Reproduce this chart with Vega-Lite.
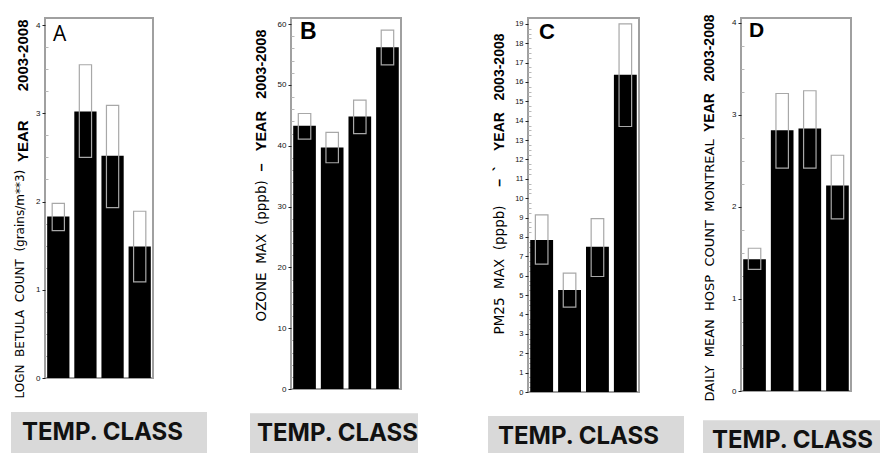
{
  "$schema": "https://vega.github.io/schema/vega-lite/v6.json",
  "background": "white",
  "padding": {"left": 11, "top": 13, "right": 2, "bottom": 0},
  "datasets": {
    "A": [
      {"cls": "1", "mean": 1.83, "lo": 1.67, "hi": 1.98},
      {"cls": "2", "mean": 3.02, "lo": 2.50, "hi": 3.55},
      {"cls": "3", "mean": 2.52, "lo": 1.93, "hi": 3.09},
      {"cls": "4", "mean": 1.49, "lo": 1.09, "hi": 1.89}
    ],
    "B": [
      {"cls": "1", "mean": 43.3, "lo": 41.1, "hi": 45.3},
      {"cls": "2", "mean": 39.7, "lo": 37.2, "hi": 42.2},
      {"cls": "3", "mean": 44.8, "lo": 42.0, "hi": 47.5},
      {"cls": "4", "mean": 56.2, "lo": 53.3, "hi": 59.0}
    ],
    "C": [
      {"cls": "1", "mean": 7.85, "lo": 6.6, "hi": 9.14},
      {"cls": "2", "mean": 5.27, "lo": 4.38, "hi": 6.13},
      {"cls": "3", "mean": 7.5, "lo": 5.96, "hi": 8.95},
      {"cls": "4", "mean": 16.37, "lo": 13.7, "hi": 19.0}
    ],
    "D": [
      {"cls": "1", "mean": 1.43, "lo": 1.32, "hi": 1.55},
      {"cls": "2", "mean": 2.83, "lo": 2.42, "hi": 3.23},
      {"cls": "3", "mean": 2.85, "lo": 2.42, "hi": 3.26},
      {"cls": "4", "mean": 2.23, "lo": 1.87, "hi": 2.56}
    ],
    "none": []
  },
  "vconcat": [
    {
      "bounds": "flush",
      "spacing": 0,
      "hconcat": [
        {"width": 34, "height": 1, "data": {"name": "none"}, "mark": {"type": "point"}, "view": {"stroke": null}},
        {
          "width": 108, "height": 360,
          "data": {"name": "A"},
          "view": {"stroke": "#a0a0a0", "strokeWidth": 2},
          "resolve": {"axis": {"y": "independent"}},
          "layer": [
            {
              "mark": {"type": "bar", "color": "#000000"},
              "encoding": {
                "x": {"field": "cls", "type": "ordinal", "scale": {"paddingInner": 0.18, "paddingOuter": 0.08}, "axis": {"title": null, "labelAngle": 0, "ticks": false, "domain": false, "labelPadding": 12, "labelFontSize": 8}},
                "y": {"field": "mean", "type": "quantitative", "scale": {"domain": [0, 4.08], "nice": false},
                  "axis": {"values": [0, 1, 2, 3, 4], "labelFontSize": 8, "tickSize": 3, "labelPadding": 2, "domain": false, "grid": false,
                    "title": "LOGN\u00a0\u00a0BETULA\u00a0\u00a0COUNT\u00a0\u00a0(grains/m**3)", "titleX": -21.5, "titleY": 380, "titleAlign": "left", "titleAngle": 270, "titleBaseline": "alphabetic", "titleFont": "DejaVu Sans", "titleFontSize": 12, "titleFontWeight": "normal", "titleColor": "#000000"}}
              }
            },
            {
              "mark": {"type": "bar", "fill": "transparent", "stroke": "#a8a8a8", "strokeWidth": 1.2, "width": {"band": 0.55}},
              "encoding": {
                "x": {"field": "cls", "type": "ordinal", "axis": null},
                "y": {"field": "lo", "type": "quantitative", "scale": {"domain": [0, 4.08], "nice": false},
                  "axis": {"orient": "left", "values": [0.25, 0.5, 0.75, 1.25, 1.5, 1.75, 2.25, 2.5, 2.75, 3.25, 3.5, 3.75], "labels": false, "domain": false, "grid": false, "tickSize": -3, "tickColor": "#b8b8b8",
                    "title": "YEAR\u00a0\u00a0\u00a0\u00a0\u00a0\u00a0\u00a02003-2008", "titleX": -18, "titleY": 1, "titleAlign": "right", "titleAngle": 270, "titleBaseline": "alphabetic", "titleFont": "Liberation Sans", "titleFontSize": 15, "titleFontWeight": "bold", "titleColor": "#000000"}},
                "y2": {"field": "hi"}
              }
            },
            {
              "data": {"values": [{"lab": "A", "cls": "1", "top": 4.08}]},
              "mark": {"type": "text", "align": "left", "baseline": "top", "dx": -5.3, "dy": 6.4, "font": "Open Sans", "fontSize": 21, "fontWeight": "normal", "color": "#000000"},
              "encoding": {
                "x": {"field": "cls", "type": "ordinal", "axis": null},
                "y": {"field": "top", "type": "quantitative", "axis": null, "scale": {"domain": [0, 4.08], "nice": false}},
                "text": {"field": "lab"}
              }
            }
          ]
        },
        {"width": 138, "height": 1, "data": {"name": "none"}, "mark": {"type": "point"}, "view": {"stroke": null}},
        {
          "width": 110, "height": 371,
          "data": {"name": "B"},
          "view": {"stroke": "#a0a0a0", "strokeWidth": 2},
          "resolve": {"axis": {"y": "independent"}},
          "layer": [
            {
              "mark": {"type": "bar", "color": "#000000"},
              "encoding": {
                "x": {"field": "cls", "type": "ordinal", "scale": {"paddingInner": 0.18, "paddingOuter": 0.08}, "axis": {"title": null, "labelAngle": 0, "ticks": false, "domain": false, "labelPadding": 12, "labelFontSize": 8}},
                "y": {"field": "mean", "type": "quantitative", "scale": {"domain": [0, 61], "nice": false},
                  "axis": {"values": [0, 10, 20, 30, 40, 50, 60], "labelFontSize": 8, "tickSize": 3, "labelPadding": 2, "domain": false, "grid": false,
                    "title": "OZONE\u00a0\u00a0MAX\u00a0\u00a0(pppb)", "titleX": -26, "titleY": 303, "titleAlign": "left", "titleAngle": 270, "titleBaseline": "alphabetic", "titleFont": "DejaVu Sans", "titleFontSize": 13.5, "titleFontWeight": "normal", "titleColor": "#000000"}}
              }
            },
            {
              "mark": {"type": "bar", "fill": "transparent", "stroke": "#a8a8a8", "strokeWidth": 1.2, "width": {"band": 0.55}},
              "encoding": {
                "x": {"field": "cls", "type": "ordinal", "axis": null},
                "y": {"field": "lo", "type": "quantitative", "scale": {"domain": [0, 61], "nice": false},
                  "axis": {"orient": "left", "values": [2, 4, 6, 8, 12, 14, 16, 18, 22, 24, 26, 28, 32, 34, 36, 38, 42, 44, 46, 48, 52, 54, 56, 58], "labels": false, "domain": false, "grid": false, "tickSize": -3, "tickColor": "#b8b8b8",
                    "title": "–\u00a0\u00a0\u00a0YEAR\u00a0\u00a0\u00a02003-2008", "titleX": -26, "titleY": 11, "titleAlign": "right", "titleAngle": 270, "titleBaseline": "alphabetic", "titleFont": "Liberation Sans", "titleFontSize": 14.5, "titleFontWeight": "bold", "titleColor": "#000000"}},
                "y2": {"field": "hi"}
              }
            },
            {
              "data": {"values": [{"lab": "B", "cls": "1", "top": 61}]},
              "mark": {"type": "text", "align": "left", "baseline": "top", "dx": -4.5, "dy": 2.8, "font": "Liberation Sans", "fontSize": 23, "fontWeight": "bold", "color": "#000000"},
              "encoding": {
                "x": {"field": "cls", "type": "ordinal", "axis": null},
                "y": {"field": "top", "type": "quantitative", "axis": null, "scale": {"domain": [0, 61], "nice": false}},
                "text": {"field": "lab"}
              }
            }
          ]
        },
        {"width": 127, "height": 1, "data": {"name": "none"}, "mark": {"type": "point"}, "view": {"stroke": null}},
        {
          "width": 111, "height": 374,
          "data": {"name": "C"},
          "view": {"stroke": "#a0a0a0", "strokeWidth": 2},
          "resolve": {"axis": {"y": "independent"}},
          "layer": [
            {
              "mark": {"type": "bar", "color": "#000000"},
              "encoding": {
                "x": {"field": "cls", "type": "ordinal", "scale": {"paddingInner": 0.18, "paddingOuter": 0.08}, "axis": {"title": null, "labelAngle": 0, "ticks": false, "domain": false, "labelPadding": 12, "labelFontSize": 8}},
                "y": {"field": "mean", "type": "quantitative", "scale": {"domain": [0, 19.3], "nice": false},
                  "axis": {"values": [0, 1, 2, 3, 4, 5, 6, 7, 8, 9, 10, 11, 12, 13, 14, 15, 16, 17, 18, 19], "labelFontSize": 7.5, "tickSize": 3, "labelPadding": 2, "domain": false, "grid": false,
                    "title": "PM25\u00a0\u00a0MAX\u00a0\u00a0(pppb)", "titleX": -25, "titleY": 316, "titleAlign": "left", "titleAngle": 270, "titleBaseline": "alphabetic", "titleFont": "DejaVu Sans", "titleFontSize": 13.5, "titleFontWeight": "normal", "titleColor": "#000000"}}
              }
            },
            {
              "mark": {"type": "bar", "fill": "transparent", "stroke": "#a8a8a8", "strokeWidth": 1.2, "width": {"band": 0.55}},
              "encoding": {
                "x": {"field": "cls", "type": "ordinal", "axis": null},
                "y": {"field": "lo", "type": "quantitative", "scale": {"domain": [0, 19.3], "nice": false},
                  "axis": {"orient": "left", "values": [0.25, 0.5, 0.75, 1.25, 1.5, 1.75, 2.25, 2.5, 2.75, 3.25, 3.5, 3.75, 4.25, 4.5, 4.75, 5.25, 5.5, 5.75, 6.25, 6.5, 6.75, 7.25, 7.5, 7.75, 8.25, 8.5, 8.75, 9.25, 9.5, 9.75, 10.25, 10.5, 10.75, 11.25, 11.5, 11.75, 12.25, 12.5, 12.75, 13.25, 13.5, 13.75, 14.25, 14.5, 14.75, 15.25, 15.5, 15.75, 16.25, 16.5, 16.75, 17.25, 17.5, 17.75, 18.25, 18.5, 18.75], "labels": false, "domain": false, "grid": false, "tickSize": -3, "tickColor": "#b8b8b8",
                    "title": "–\u00a0\u00a0`\u00a0\u00a0\u00a0\u00a0YEAR\u00a0\u00a0\u00a02003-2008", "titleX": -25, "titleY": 15, "titleAlign": "right", "titleAngle": 270, "titleBaseline": "alphabetic", "titleFont": "Liberation Sans", "titleFontSize": 14, "titleFontWeight": "bold", "titleColor": "#000000"}},
                "y2": {"field": "hi"}
              }
            },
            {
              "data": {"values": [{"lab": "C", "cls": "1", "top": 19.3}]},
              "mark": {"type": "text", "align": "left", "baseline": "top", "dx": -2.6, "dy": 4.4, "font": "Liberation Sans", "fontSize": 22, "fontWeight": "bold", "color": "#000000"},
              "encoding": {
                "x": {"field": "cls", "type": "ordinal", "axis": null},
                "y": {"field": "top", "type": "quantitative", "axis": null, "scale": {"domain": [0, 19.3], "nice": false}},
                "text": {"field": "lab"}
              }
            }
          ]
        },
        {"width": 102, "height": 1, "data": {"name": "none"}, "mark": {"type": "point"}, "view": {"stroke": null}},
        {
          "width": 110, "height": 373,
          "data": {"name": "D"},
          "view": {"stroke": "#a0a0a0", "strokeWidth": 2},
          "resolve": {"axis": {"y": "independent"}},
          "layer": [
            {
              "mark": {"type": "bar", "color": "#000000"},
              "encoding": {
                "x": {"field": "cls", "type": "ordinal", "scale": {"paddingInner": 0.18, "paddingOuter": 0.08}, "axis": {"title": null, "labelAngle": 0, "ticks": false, "domain": false, "labelPadding": 12, "labelFontSize": 8}},
                "y": {"field": "mean", "type": "quantitative", "scale": {"domain": [0, 4.05], "nice": false},
                  "axis": {"values": [0, 1, 2, 3, 4], "labelFontSize": 8, "tickSize": 3, "labelPadding": 2, "domain": false, "grid": false,
                    "title": "DAILY\u00a0\u00a0MEAN\u00a0\u00a0HOSP\u00a0\u00a0COUNT\u00a0\u00a0MONTREAL", "titleX": -28, "titleY": 383, "titleAlign": "left", "titleAngle": 270, "titleBaseline": "alphabetic", "titleFont": "DejaVu Sans", "titleFontSize": 13, "titleFontWeight": "normal", "titleColor": "#000000"}}
              }
            },
            {
              "mark": {"type": "bar", "fill": "transparent", "stroke": "#a8a8a8", "strokeWidth": 1.2, "width": {"band": 0.55}},
              "encoding": {
                "x": {"field": "cls", "type": "ordinal", "axis": null},
                "y": {"field": "lo", "type": "quantitative", "scale": {"domain": [0, 4.05], "nice": false},
                  "axis": {"orient": "left", "values": [0.25, 0.5, 0.75, 1.25, 1.5, 1.75, 2.25, 2.5, 2.75, 3.25, 3.5, 3.75], "labels": false, "domain": false, "grid": false, "tickSize": -3, "tickColor": "#b8b8b8",
                    "title": "YEAR\u00a0\u00a0\u00a02003-2008", "titleX": -28, "titleY": -4, "titleAlign": "right", "titleAngle": 270, "titleBaseline": "alphabetic", "titleFont": "Liberation Sans", "titleFontSize": 14, "titleFontWeight": "bold", "titleColor": "#000000"}},
                "y2": {"field": "hi"}
              }
            },
            {
              "data": {"values": [{"lab": "D", "cls": "1", "top": 4.05}]},
              "mark": {"type": "text", "align": "left", "baseline": "top", "dx": -5.5, "dy": 2.4, "font": "Liberation Sans", "fontSize": 21, "fontWeight": "bold", "color": "#000000"},
              "encoding": {
                "x": {"field": "cls", "type": "ordinal", "axis": null},
                "y": {"field": "top", "type": "quantitative", "axis": null, "scale": {"domain": [0, 4.05], "nice": false}},
                "text": {"field": "lab"}
              }
            }
          ]
        }
      ]
    },
    {
      "bounds": "flush",
      "center": true,
      "spacing": 0,
      "hconcat": [
        {
          "width": 196, "height": 60,
          "data": {"values": [{"t": "TEMP. CLASS"}]},
          "view": {"fill": "#d9d9d9", "stroke": null},
          "mark": {"type": "text", "align": "center", "baseline": "middle", "dx": -6.5, "dy": -9, "font": "Inter", "fontSize": 24, "fontWeight": "bold", "color": "#111111"},
          "encoding": {"text": {"field": "t"}}
        },
        {"width": 43, "height": 1, "data": {"name": "none"}, "mark": {"type": "point"}, "view": {"stroke": null}},
        {
          "width": 168, "height": 57.4,
          "data": {"values": [{"t": "TEMP. CLASS"}]},
          "view": {"fill": "#d9d9d9", "stroke": null},
          "mark": {"type": "text", "align": "center", "baseline": "middle", "dx": 3.5, "dy": -7.7, "font": "Inter", "fontSize": 24, "fontWeight": "bold", "color": "#111111"},
          "encoding": {"text": {"field": "t"}}
        },
        {"width": 70, "height": 1, "data": {"name": "none"}, "mark": {"type": "point"}, "view": {"stroke": null}},
        {
          "width": 196, "height": 52,
          "data": {"values": [{"t": "TEMP. CLASS"}]},
          "view": {"fill": "#d9d9d9", "stroke": null},
          "mark": {"type": "text", "align": "center", "baseline": "middle", "dx": -7.5, "dy": -5, "font": "Inter", "fontSize": 24, "fontWeight": "bold", "color": "#111111"},
          "encoding": {"text": {"field": "t"}}
        },
        {"width": 19, "height": 1, "data": {"name": "none"}, "mark": {"type": "point"}, "view": {"stroke": null}},
        {
          "width": 177, "height": 43.4,
          "data": {"values": [{"t": "TEMP. CLASS"}]},
          "view": {"fill": "#d9d9d9", "stroke": null},
          "mark": {"type": "text", "align": "center", "baseline": "middle", "dx": 1, "dy": -0.7, "font": "Inter", "fontSize": 24, "fontWeight": "bold", "color": "#111111"},
          "encoding": {"text": {"field": "t"}}
        }
      ]
    }
  ],
  "spacing": 10,
  "config": {
    "font": "Liberation Sans",
    "axis": {"labelColor": "#111111", "tickColor": "#222222", "labelFont": "Liberation Sans"}
  }
}
